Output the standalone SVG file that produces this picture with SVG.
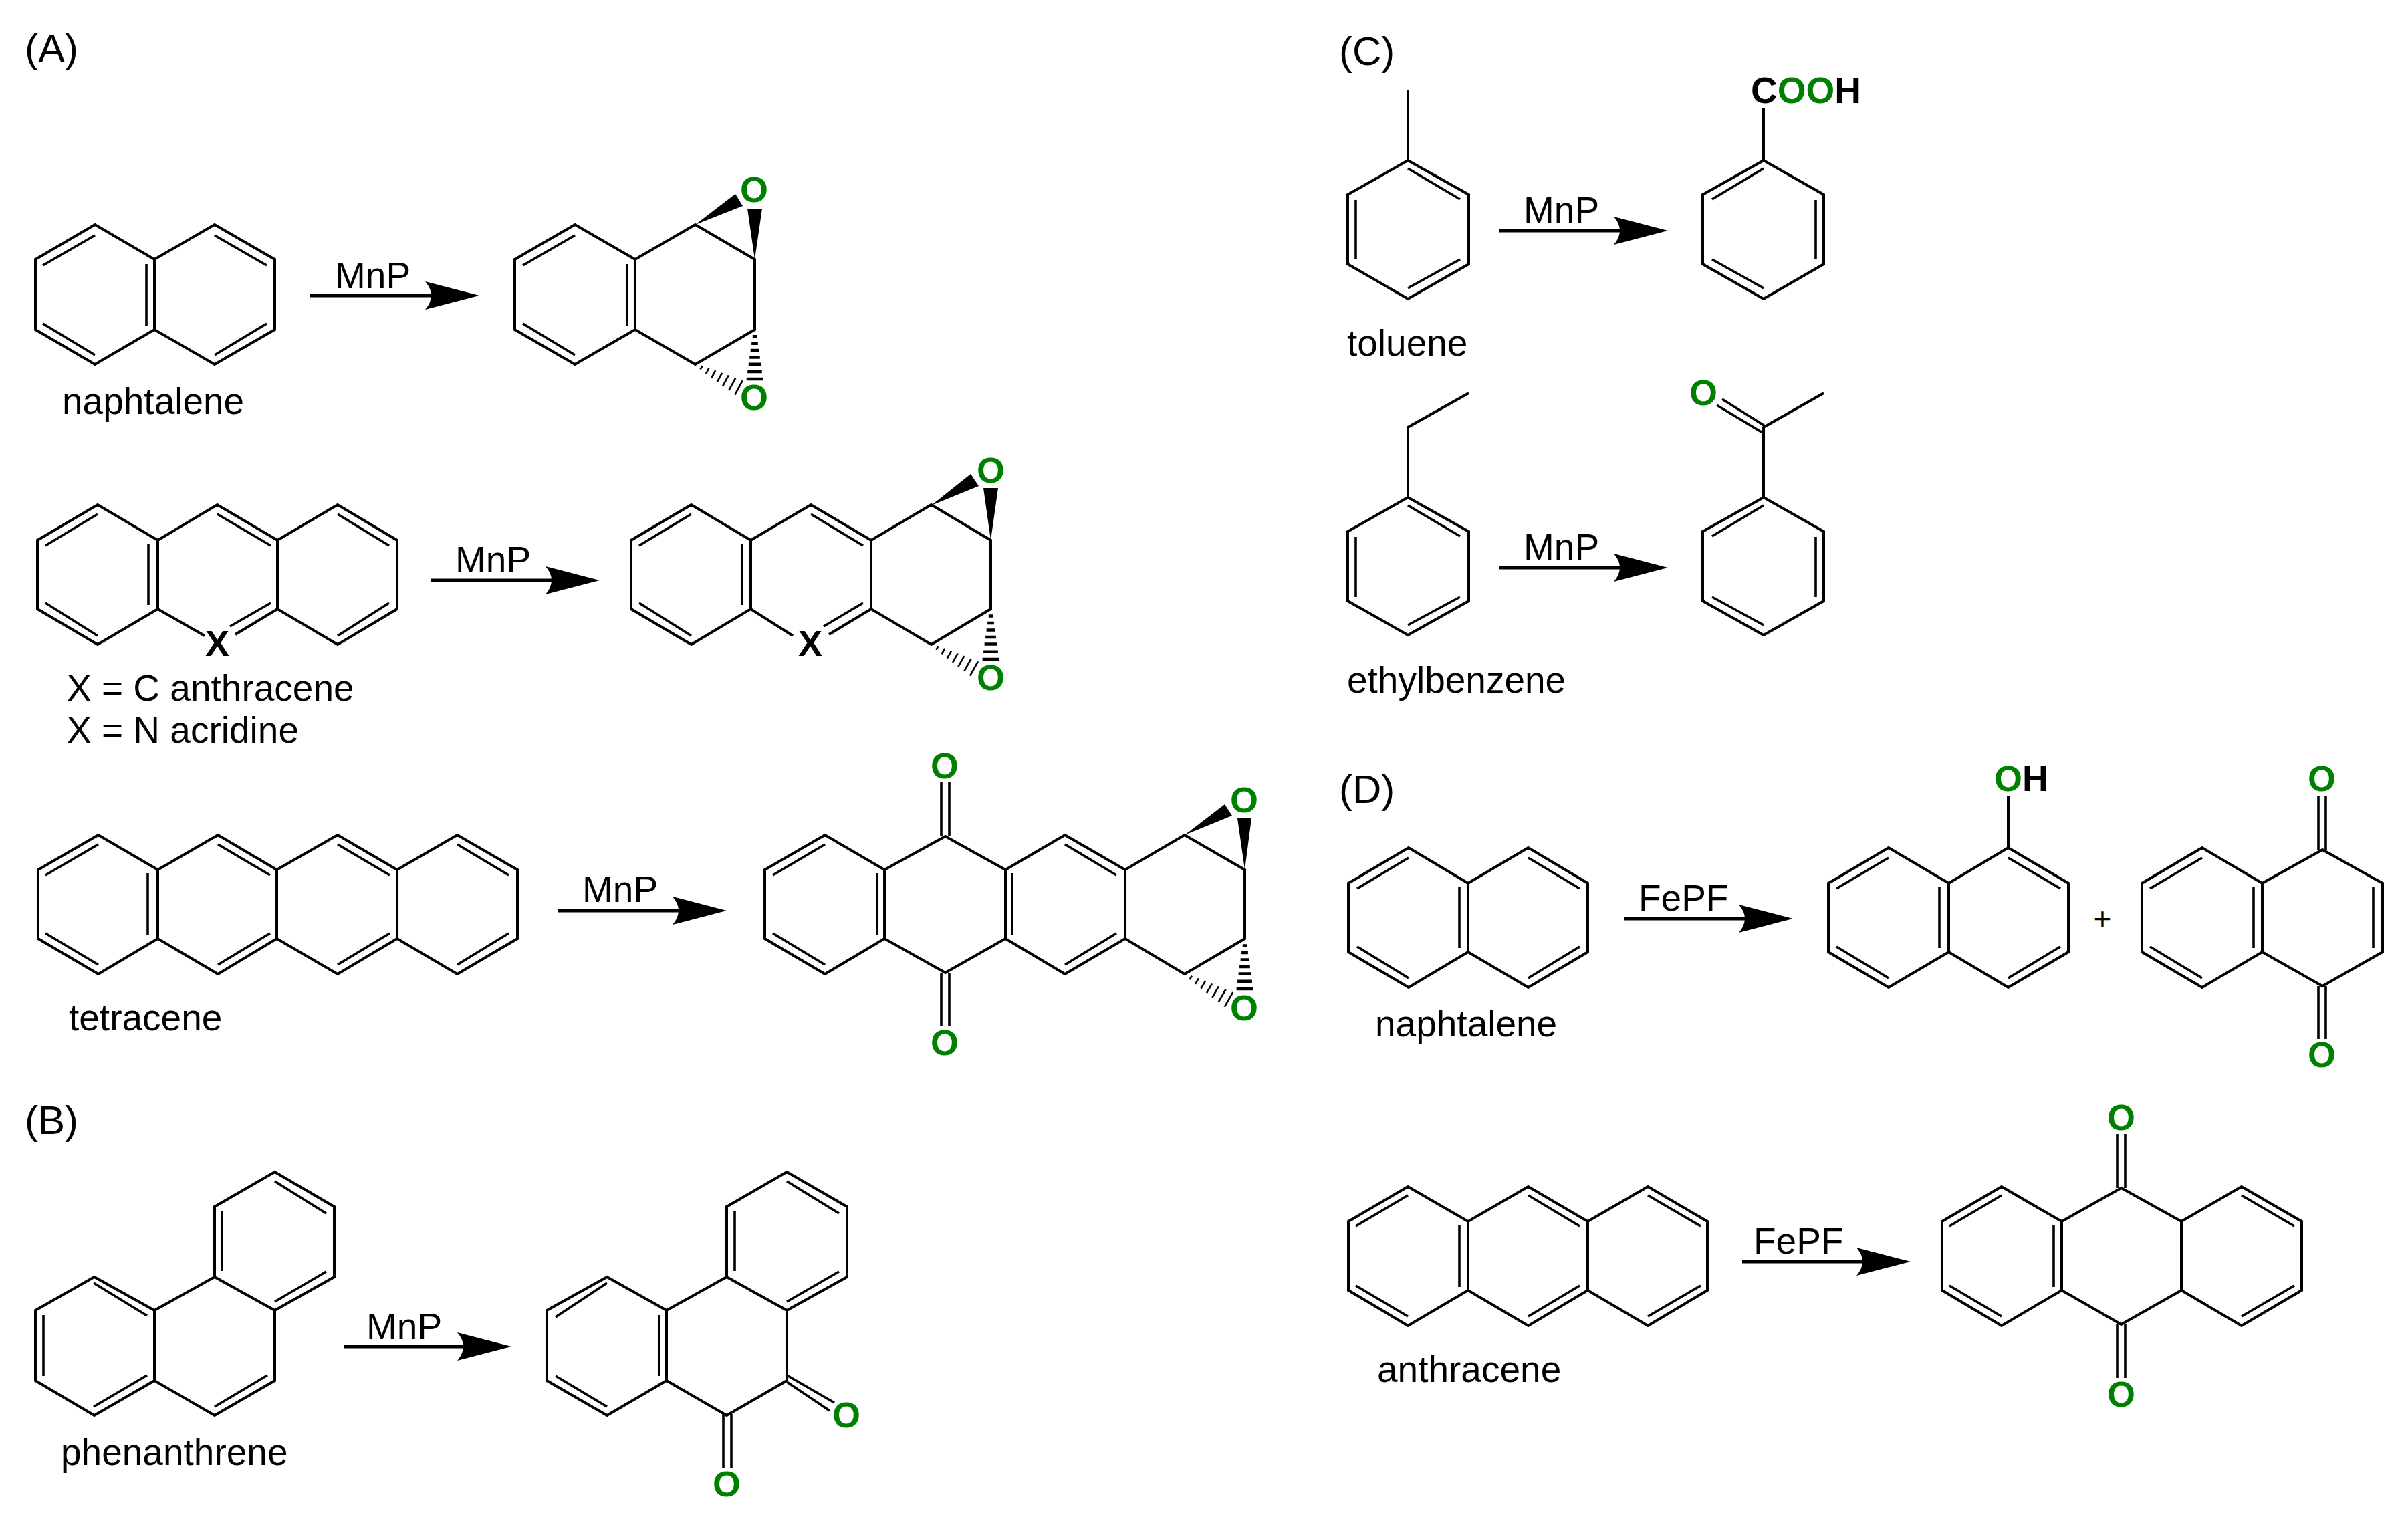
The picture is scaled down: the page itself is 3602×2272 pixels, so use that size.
<svg xmlns="http://www.w3.org/2000/svg" xmlns:xlink="http://www.w3.org/1999/xlink" width="3602" height="2272" viewBox="0 0 3602 2272">
<style>
text{font-family:"Liberation Sans",Arial,sans-serif;font-size:55px;fill:#000}
.h{font-size:60px}
.o{font-weight:700;fill:#008000;text-anchor:middle;font-size:54px}
.x{font-weight:700;text-anchor:middle;font-size:54px}
.g{fill:#008000}
.b{fill:none;stroke:#000;stroke-width:4;stroke-linejoin:miter}
.i{fill:none;stroke:#000;stroke-width:3.6}
.w{fill:#000;stroke:none}
.t{fill:none;stroke:#000;vector-effect:non-scaling-stroke}
.hv{stroke-width:4.5}
.hd{stroke-width:2.6}
.a{fill:none;stroke:#000;stroke-width:5}
</style>
<defs>
<marker id="ah" markerUnits="userSpaceOnUse" markerWidth="82" markerHeight="44" viewBox="0 0 82 44" refX="9" refY="22" orient="auto">
<path d="M81 22L0 1Q18 22 0 43Z" fill="#000"/>
</marker>
<path id="hash" class="t" d="M14-4.3V4.3M28-6.5V6.5M42-8.5V8.5M56-10.5V10.5M70-12.5V12.5M85-14.5V14.5M100-16.5V16.5"/>
</defs>
<rect width="3602" height="2272" fill="#fff"/>

<g id="connectors">
<line class="a" x1="464" y1="442" x2="645" y2="442" marker-end="url(#ah)"/>
<line class="a" x1="645" y1="868" x2="825" y2="868" marker-end="url(#ah)"/>
<line class="a" x1="835" y1="1362" x2="1015" y2="1362" marker-end="url(#ah)"/>
<line class="a" x1="514" y1="2014" x2="693" y2="2014" marker-end="url(#ah)"/>
<line class="a" x1="2243" y1="345" x2="2423" y2="345" marker-end="url(#ah)"/>
<line class="a" x1="2243" y1="849" x2="2423" y2="849" marker-end="url(#ah)"/>
<line class="a" x1="2429" y1="1374" x2="2610" y2="1374" marker-end="url(#ah)"/>
<line class="a" x1="2606" y1="1887" x2="2786" y2="1887" marker-end="url(#ah)"/>
</g>

<g id="panel-labels">
<text class="h" x="37" y="93">(A)</text>
<text class="h" x="37" y="1696">(B)</text>
<text class="h" x="2003" y="97">(C)</text>
<text class="h" x="2003" y="1201">(D)</text>
</g>

<g id="arrow-labels">
<text x="501" y="431">MnP</text>
<text x="681" y="856">MnP</text>
<text x="871" y="1349">MnP</text>
<text x="548" y="2003">MnP</text>
<text x="2279" y="333">MnP</text>
<text x="2279" y="837">MnP</text>
<text x="2451" y="1362">FePF</text>
<text x="2623" y="1875">FePF</text>
</g>

<g id="a1-naphtalene">
<path class="b" d="M53 388L142 336L231 388L321 336L411 388V493L321 545L231 493L142 545L53 493ZM231 388V493"/>
<path class="i" d="M64 397L142 352M64 484L142 531M219 395V487M321 352L399 397M321 531L399 484"/>
<text x="93" y="619">naphtalene</text>
</g>
<g id="a1-product">
<path class="b" d="M770 388L860 336L950 388L1040 336L1129 388V493L1040 545L950 493L860 545L770 493ZM950 388V493"/>
<path class="i" d="M782 397L860 352M782 484L860 531M938 395V487"/>
<polygon class="w" points="1040,336 1100,290 1111,308"/>
<polygon class="w" points="1129,388 1118,312 1140,312"/>
<use xlink:href="#hash" href="#hash" class="hv" transform="matrix(0 .74 -.74 0 1129 493)"/>
<use xlink:href="#hash" href="#hash" class="hd" transform="matrix(.65 .35 -.35 .65 1040 545)"/>
<text class="o" x="1128" y="302">O</text>
<text class="o" x="1128" y="613">O</text>
</g>

<g id="a2-anthracene">
<path class="b" d="M306 951L236 911L146 964L56 911V808L146 755L236 808L325 755L415 808L505 755L594 808V911L505 964L415 911L352 949M236 808V911M415 808V911"/>
<path class="i" d="M68 816L146 769M68 902L146 951M222 813V905M325 769L405 816M405 902L344 937M505 769L582 816M505 951L582 902"/>
<text class="x" x="325" y="981">X</text>
<text x="100" y="1048">X = C anthracene</text>
<text x="100" y="1111">X = N acridine</text>
</g>
<g id="a2-product">
<path class="b" d="M1186 951L1123 911L1034 964L944 911V808L1034 755L1123 808L1213 755L1303 808L1393 755L1482 808V911L1393 964L1303 911L1240 949M1123 808V911M1303 808V911"/>
<path class="i" d="M956 816L1034 769M956 902L1034 951M1110 813V905M1213 769L1291 816M1291 902L1232 937"/>
<polygon class="w" points="1393,756 1452,709 1464,727"/>
<polygon class="w" points="1482,808 1471,730 1493,730"/>
<use xlink:href="#hash" href="#hash" class="hv" transform="matrix(0 .75 -.75 0 1482 911)"/>
<use xlink:href="#hash" href="#hash" class="hd" transform="matrix(.64 .36 -.36 .64 1393 964)"/>
<text class="x" x="1212" y="981">X</text>
<text class="o" x="1482" y="722">O</text>
<text class="o" x="1482" y="1032">O</text>
</g>

<g id="a3-tetracene">
<path class="b" d="M57 1301L147 1249L236 1301L326 1249L414 1301L505 1249L594 1301L684 1249L774 1301V1404L684 1457L594 1404L505 1457L414 1404L326 1457L236 1404L147 1457L57 1404ZM236 1301V1404M414 1301V1404M594 1301V1404"/>
<path class="i" d="M68 1309L147 1263M68 1396L147 1443M221 1306V1399M326 1263L404 1309M326 1443L404 1396M505 1263L583 1309M505 1443L583 1396M684 1263L761 1309M684 1443L761 1396"/>
<text x="103" y="1541">tetracene</text>
</g>
<g id="a3-product">
<path class="b" d="M1144 1301L1234 1249L1323 1301L1414 1251L1504 1301L1593 1249L1683 1301L1772 1249L1862 1301V1404L1772 1457L1683 1404L1593 1457L1504 1404L1414 1455L1323 1404L1234 1457L1144 1404ZM1323 1301V1404M1504 1301V1404M1683 1301V1404"/>
<path class="i" d="M1156 1309L1234 1263M1156 1396L1234 1443M1312 1306V1399M1514 1306V1399M1593 1263L1670 1309M1593 1443L1670 1396M1408 1170V1251M1420 1170V1251M1408 1455V1535M1420 1455V1535"/>
<polygon class="w" points="1772,1249 1832,1203 1843,1220"/>
<polygon class="w" points="1862,1301 1851,1224 1872,1224"/>
<use xlink:href="#hash" href="#hash" class="hv" transform="matrix(0 .75 -.75 0 1862 1404)"/>
<use xlink:href="#hash" href="#hash" class="hd" transform="matrix(.66 .38 -.38 .66 1772 1457)"/>
<text class="o" x="1413" y="1164">O</text>
<text class="o" x="1413" y="1578">O</text>
<text class="o" x="1861" y="1215">O</text>
<text class="o" x="1861" y="1526">O</text>
</g>

<g id="b-phenanthrene">
<path class="b" d="M53 1960L141 1910L231 1960V2065L141 2117L53 2065ZM231 1960L321 1910L411 1960V2065L321 2117L231 2065M321 1910V1805L411 1753L500 1805V1910L411 1960"/>
<path class="i" d="M65 1967V2058M140 1919L220 1968M140 2104L220 2057M321 2104L400 2057M332 1812V1901M411 1767L488 1815M411 1947L488 1902"/>
<text x="91" y="2191">phenanthrene</text>
</g>
<g id="b-product">
<path class="b" d="M818 1960L908 1910L997 1960V2065L908 2117L818 2065ZM997 1960L1087 1910L1177 1960V2065L1087 2117L997 2065M1087 1910V1805L1177 1753L1267 1805V1910L1177 1960"/>
<path class="i" d="M831 1970L908 1919M831 2058L908 2104M986 1967V2058M1099 1812V1901M1177 1767L1255 1815M1177 1947L1255 1902M1177 2057L1248 2098M1177 2067L1241 2110M1082 2115V2195M1094 2115V2195"/>
<text class="o" x="1266" y="2135">O</text>
<text class="o" x="1087" y="2238">O</text>
</g>

<g id="c1-toluene">
<path class="b" d="M2016 291L2106 240L2197 291V395L2106 447L2016 395ZM2106 240V134"/>
<path class="i" d="M2028 299V388M2106 252L2184 298M2106 431L2184 388"/>
<text x="2015" y="532">toluene</text>
</g>
<g id="c1-product">
<path class="b" d="M2547 291L2638 240L2728 291V395L2638 447L2547 395ZM2638 240V162"/>
<path class="i" d="M2716 299V388M2638 252L2561 298M2561 388L2638 431"/>
<text x="2619" y="154" style="font-weight:700">C<tspan class="g">OO</tspan>H</text>
</g>

<g id="c2-ethylbenzene">
<path class="b" d="M2016 795L2106 744L2197 795V899L2106 950L2016 899ZM2106 744V639L2197 588"/>
<path class="i" d="M2028 803V893M2106 756L2184 802M2106 935L2184 893"/>
<text x="2015" y="1036">ethylbenzene</text>
</g>
<g id="c2-product">
<path class="b" d="M2547 795L2638 744L2728 795V899L2638 950L2547 899ZM2638 744V639L2728 588"/>
<path class="i" d="M2716 803V893M2638 756L2561 802M2561 893L2638 935M2640 637L2576 597M2638 648L2568 606"/>
<text class="o" x="2548" y="606">O</text>
</g>

<g id="d1-naphtalene">
<path class="b" d="M2017 1321L2107 1268L2196 1321L2286 1268L2375 1321V1424L2286 1477L2196 1424L2107 1477L2017 1424ZM2196 1321V1424"/>
<path class="i" d="M2030 1329L2107 1283M2030 1416L2107 1463M2183 1326V1418M2286 1283L2363 1329M2286 1463L2363 1416"/>
<text x="2057" y="1550">naphtalene</text>
</g>
<g id="d1-naphthol">
<path class="b" d="M2735 1321L2825 1268L2915 1321L3004 1268L3094 1321V1424L3004 1477L2915 1424L2825 1477L2735 1424ZM2915 1321V1424M3004 1268V1190"/>
<path class="i" d="M2747 1329L2825 1283M2747 1416L2825 1463M2901 1326V1418M3004 1283L3082 1329M3004 1463L3082 1416"/>
<text x="2983" y="1183" style="font-weight:700;font-size:54px"><tspan class="g">O</tspan>H</text>
</g>
<text id="d1-plus" x="3145" y="1390" style="font-size:46px;text-anchor:middle">+</text>
<g id="d1-quinone">
<path class="b" d="M3204 1321L3294 1268L3384 1321L3474 1271L3564 1321V1424L3474 1475L3384 1424L3294 1477L3204 1424ZM3384 1321V1424"/>
<path class="i" d="M3216 1329L3294 1283M3216 1416L3294 1463M3371 1326V1418M3550 1326V1418M3468 1190V1271M3479 1190V1271M3468 1475V1554M3479 1475V1554"/>
<text class="o" x="3473" y="1183">O</text>
<text class="o" x="3473" y="1596">O</text>
</g>

<g id="d2-anthracene">
<path class="b" d="M2017 1827L2106 1775L2196 1827L2286 1775L2375 1827L2465 1775L2554 1827V1930L2465 1983L2375 1930L2286 1983L2196 1930L2106 1983L2017 1930ZM2196 1827V1930M2375 1827V1930"/>
<path class="i" d="M2028 1834L2106 1788M2028 1923L2106 1969M2183 1833V1925M2286 1788L2363 1834M2286 1969L2363 1923M2465 1788L2544 1834M2465 1969L2544 1923"/>
<text x="2060" y="2067">anthracene</text>
</g>
<g id="d2-product">
<path class="b" d="M2905 1827L2994 1775L3084 1827L3173 1777L3263 1827L3353 1775L3443 1827V1930L3353 1983L3263 1930L3173 1981L3084 1930L2994 1983L2905 1930ZM3084 1827V1930M3263 1827V1930"/>
<path class="i" d="M2916 1834L2994 1788M2916 1923L2994 1969M3072 1833V1925M3353 1788L3432 1834M3353 1969L3432 1923M3167 1696V1777M3179 1696V1777M3167 1981V2061M3179 1981V2061"/>
<text class="o" x="3173" y="1690">O</text>
<text class="o" x="3173" y="2104">O</text>
</g>
</svg>
